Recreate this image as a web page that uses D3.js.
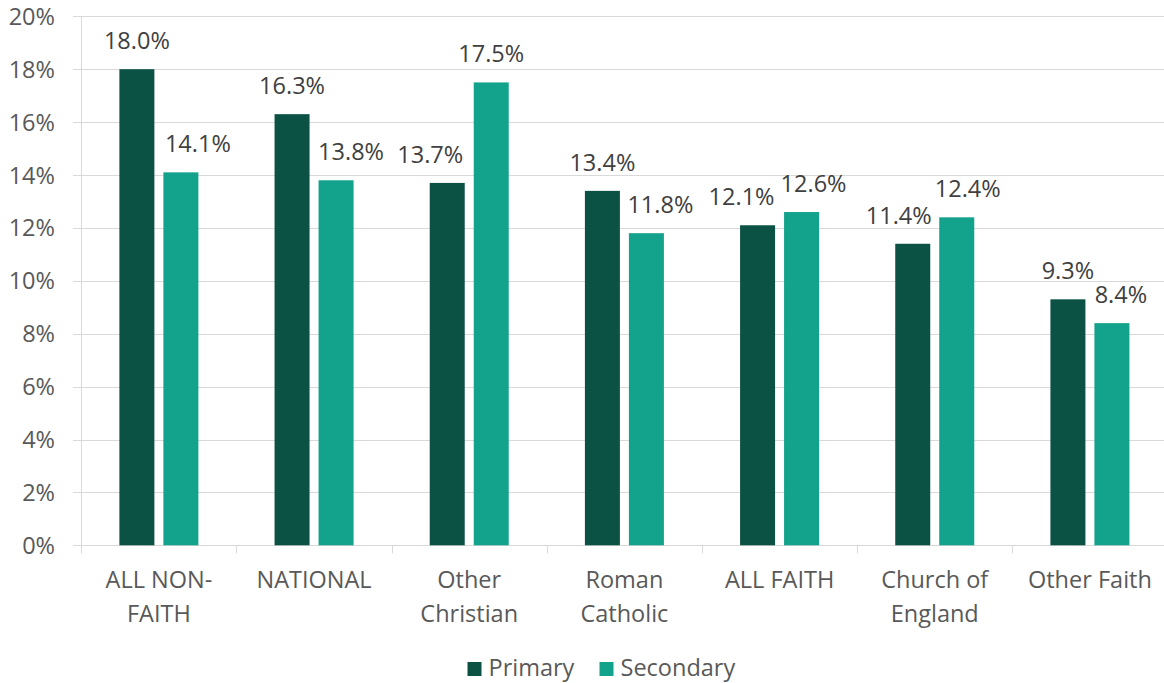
<!DOCTYPE html>
<html>
<head>
<meta charset="utf-8">
<script src="https://cdn.jsdelivr.net/npm/d3@7"></script>
<style>
  html, body { margin: 0; padding: 0; background: #fff; }
  svg { display: block; }
  text { font-family: "Open Sans", "Noto Sans", sans-serif; }
</style>
</head>
<body>
<svg id="chart" width="1164" height="683"></svg>
<script>
// ---- data ----
const categories = [["ALL NON-", "FAITH"], ["NATIONAL"], ["Other", "Christian"], ["Roman", "Catholic"], ["ALL FAITH"], ["Church of", "England"], ["Other Faith"]];
const seriesNames = ["Primary", "Secondary"];
const primaryValues = [18.0, 16.3, 13.7, 13.4, 12.1, 11.4, 9.3];
const secondaryValues = [14.1, 13.8, 17.5, 11.8, 12.6, 12.4, 8.4];
const yTicks = [0, 2, 4, 6, 8, 10, 12, 14, 16, 18, 20];
// label nudges (px) as placed in the original to avoid overlaps
const primaryLabelNudge = [0, 0, -17, 0, -16, -14, 0];
const secondaryLabelNudge = [17, 15, 0, 14, 12, 11, 9];

// ---- layout ----
const colors = ["#0B5245", "#13A28B"];
const textColor = "#595959";
const labelColor = "#404040";
const gridColor = "#D9D9D9";
const fontSize = 23.5;
const plotLeft = 81.3, plotRight = 1167.5, plotTop = 16.3, plotBottom = 545.3;

const svg = d3.select("#chart");
const catKeys = categories.map(c => c.join(" "));

const x0 = d3.scaleBand().domain(catKeys).range([plotLeft, plotRight]).padding(0);
const groupW = 79;
const x1 = d3.scaleBand().domain(seriesNames)
  .range([(x0.bandwidth() - groupW) / 2, (x0.bandwidth() + groupW) / 2])
  .paddingInner(9 / 44).paddingOuter(0);
const y = d3.scaleLinear().domain([0, 20]).range([plotBottom, plotTop]);

// gridlines + y tick marks
svg.append("g").selectAll("line").data(yTicks).join("line")
  .attr("x1", plotLeft - 8.5).attr("x2", 1164)
  .attr("y1", d => Math.round(y(d)) + 0.5).attr("y2", d => Math.round(y(d)) + 0.5)
  .attr("stroke", gridColor).attr("stroke-width", 1);

// left axis line
svg.append("line")
  .attr("x1", Math.round(plotLeft) + 0.5).attr("x2", Math.round(plotLeft) + 0.5)
  .attr("y1", Math.round(y(20))).attr("y2", plotBottom + 8)
  .attr("stroke", gridColor).attr("stroke-width", 1);

// category boundary tick marks
const boundaries = catKeys.map(k => x0(k)).concat([plotRight]);
svg.append("g").selectAll("line").data(boundaries).join("line")
  .attr("x1", d => Math.round(d) + 0.5).attr("x2", d => Math.round(d) + 0.5)
  .attr("y1", plotBottom).attr("y2", plotBottom + 8)
  .attr("stroke", gridColor).attr("stroke-width", 1);

// y tick labels
svg.append("g").selectAll("text").data(yTicks).join("text")
  .attr("x", 55).attr("y", d => y(d) + 8.5)
  .attr("text-anchor", "end")
  .attr("font-size", fontSize).attr("fill", textColor)
  .text(d => d + "%");

// bars
const rows = catKeys.map((k, i) => ({
  key: k,
  vals: [
    { s: seriesNames[0], v: primaryValues[i], nudge: primaryLabelNudge[i], c: colors[0] },
    { s: seriesNames[1], v: secondaryValues[i], nudge: secondaryLabelNudge[i], c: colors[1] }
  ]
}));

const groups = svg.append("g").selectAll("g").data(rows).join("g")
  .attr("transform", d => `translate(${x0(d.key)},0)`);

groups.selectAll("rect").data(d => d.vals).join("rect")
  .attr("x", d => x1(d.s)).attr("width", x1.bandwidth())
  .attr("y", d => y(d.v)).attr("height", d => y(0) - y(d.v))
  .attr("fill", d => d.c);

groups.selectAll("text").data(d => d.vals).join("text")
  .attr("x", d => x1(d.s) + x1.bandwidth() / 2 + d.nudge)
  .attr("y", d => y(d.v) - 20)
  .attr("text-anchor", "middle")
  .attr("font-size", fontSize).attr("fill", labelColor)
  .text(d => d.v.toFixed(1) + "%");

// category labels
const cl = svg.append("g").selectAll("text").data(categories).join("text")
  .attr("x", (d, i) => x0(catKeys[i]) + x0.bandwidth() / 2)
  .attr("y", 588)
  .attr("text-anchor", "middle")
  .attr("font-size", fontSize).attr("fill", textColor);
cl.selectAll("tspan").data(d => d).join("tspan")
  .attr("x", function () { return d3.select(this.parentNode).attr("x"); })
  .attr("dy", (d, i) => i === 0 ? 0 : 34)
  .text(d => d);

// legend
const legendItems = [
  { name: seriesNames[0], c: colors[0], x: 467.5 },
  { name: seriesNames[1], c: colors[1], x: 599.5 }
];
const lg = svg.append("g").selectAll("g").data(legendItems).join("g")
  .attr("transform", d => `translate(${d.x},0)`);
lg.append("rect").attr("x", 0).attr("y", 662).attr("width", 14).attr("height", 14).attr("fill", d => d.c);
lg.append("text").attr("x", 21).attr("y", 676)
  .attr("font-size", fontSize).attr("fill", textColor).text(d => d.name);
</script>
</body>
</html>
